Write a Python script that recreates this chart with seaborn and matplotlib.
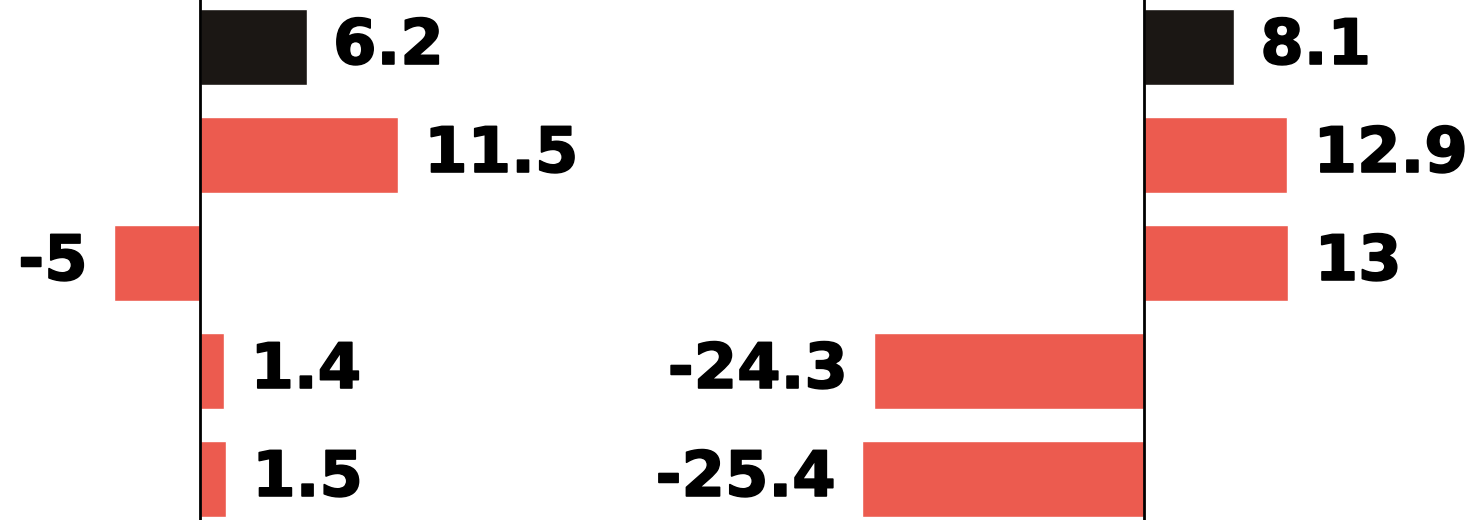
import pandas as pd
import matplotlib.pyplot as plt
import matplotlib.patheffects as pe
import seaborn as sns

# row names are not printed in the chart, only used to place the bars
rows = ["r1", "r2", "r3", "r4", "r5"]
left_values = [6.2, 11.5, -5, 1.4, 1.5]
right_values = [8.1, 12.9, 13, -24.3, -25.4]
bar_colors = ["#1b1714", "#ec5b4f", "#ec5b4f", "#ec5b4f", "#ec5b4f"]

sns.set_style("white")
plt.rcParams["font.family"] = ["DejaVu Sans"]

fig = plt.figure(figsize=(14.73, 5.2), dpi=100)

# two panels, each with its own scale; zero sits at x=200px and x=1144px
ax_left = fig.add_axes([0, 0, 700 / 1473, 1])
ax_right = fig.add_axes([700 / 1473, 0, 773 / 1473, 1])

panels = [
    (ax_left, left_values, (-200 / 17.2, 500 / 17.2)),
    (ax_right, right_values, (-444 / 11.1, 329 / 11.1)),
]

# labels in the original are a very heavy face, so thicken the bold glyphs a little
heavy = [pe.withStroke(linewidth=1.2, foreground="black")]

for ax, values, xlim in panels:
    df = pd.DataFrame({"row": rows, "value": values})
    sns.barplot(data=df, x="value", y="row", hue="row", palette=bar_colors,
                orient="h", width=0.7, legend=False, saturation=1, ax=ax)
    for container in ax.containers:
        labels = ax.bar_label(container, fmt="%g", padding=19, fontsize=45,
                              fontweight="bold", color="black")
        for t in labels:
            t.set_path_effects(heavy)
    ax.set_xlim(*xlim)
    ax.set_ylim(4.38, -0.435)
    ax.spines["left"].set_position(("data", 0))
    ax.spines["left"].set_color("black")
    ax.spines["left"].set_linewidth(2)
    for side in ["top", "right", "bottom"]:
        ax.spines[side].set_visible(False)
    ax.set_xticks([])
    ax.set_yticks([])
    ax.set_xlabel("")
    ax.set_ylabel("")
    ax.patch.set_alpha(0)

fig.savefig("out.png", dpi=100)
